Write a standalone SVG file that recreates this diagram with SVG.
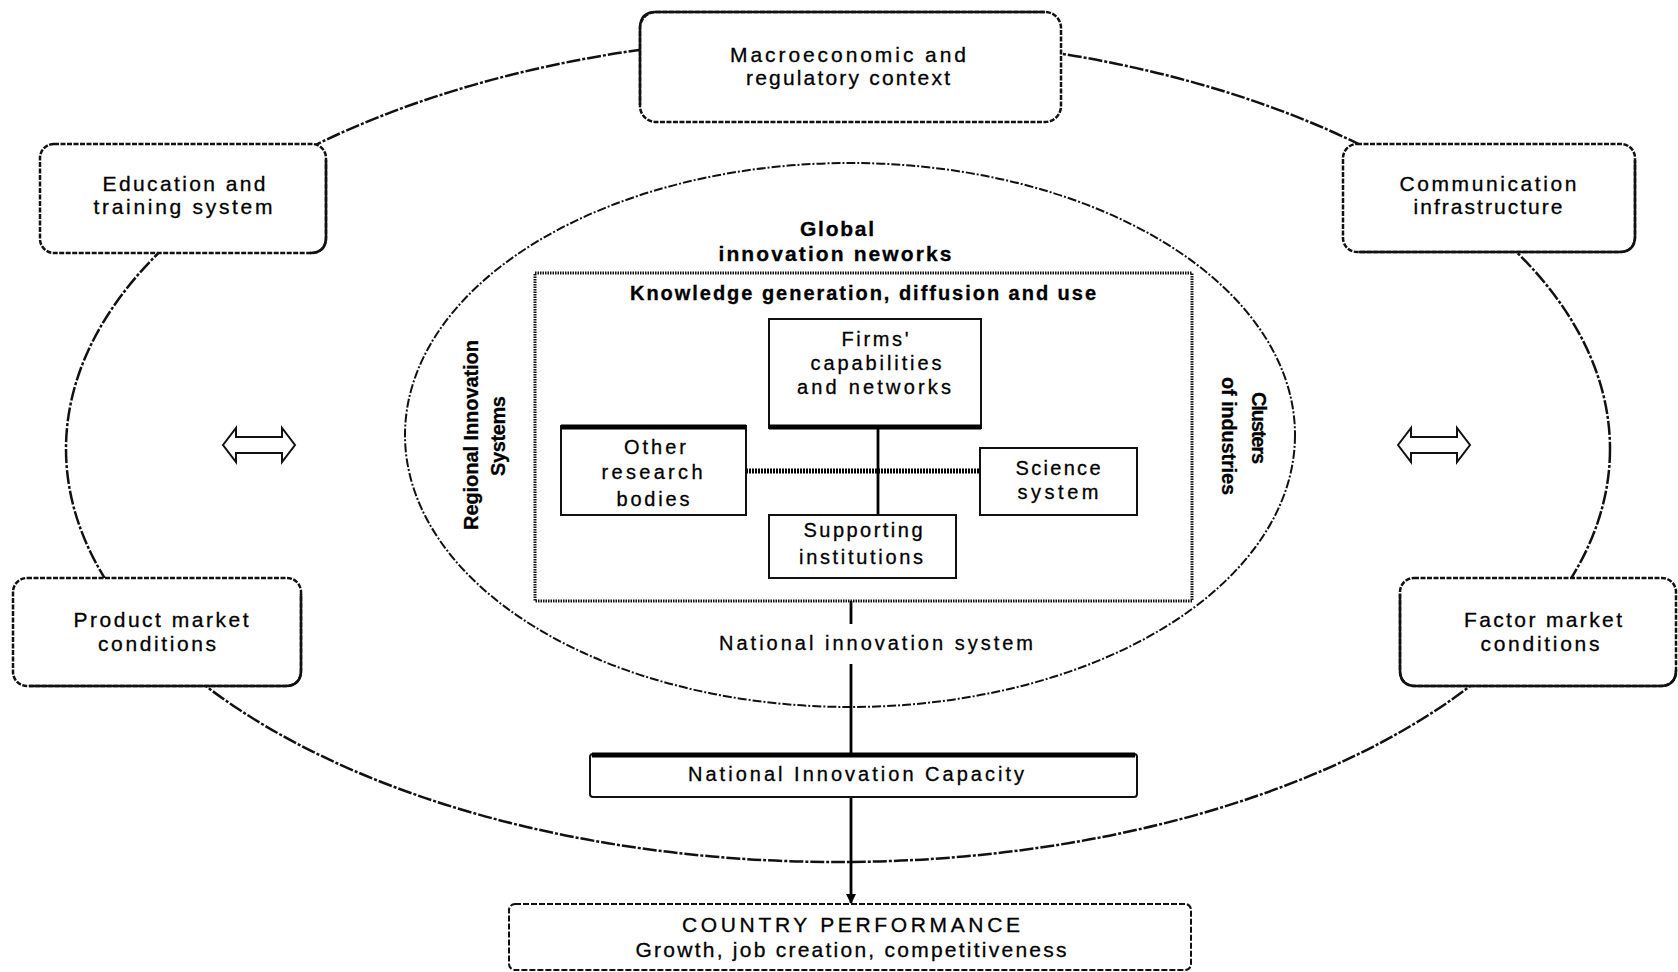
<svg xmlns="http://www.w3.org/2000/svg" width="1678" height="972" viewBox="0 0 1678 972">
  <style>
    .bg { fill: #ffffff; }
    .ring { fill: none; stroke: #111; stroke-width: 2.5; stroke-dasharray: 14 2 3 2; }
    .nis { fill: none; stroke: #111; stroke-width: 2; stroke-dasharray: 9 2 2 2; }
    .rbox { fill: #fff; stroke: #111; stroke-width: 2.5; stroke-dasharray: 5 1.5; }
    .rbox-solid { fill: none; stroke: #111; stroke-width: 2.5; }
    .kframe { fill: none; stroke: #111; stroke-width: 3; stroke-dasharray: 1.5 1; }
    .ibox { fill: #fff; stroke: #111; stroke-width: 2; }
    .heavy { stroke: #000; stroke-width: 5; }
    .cbox { fill: #fff; stroke: #111; stroke-width: 2; stroke-dasharray: 6 2; }
    .dbl { fill: #fff; stroke: #111; stroke-width: 2; }
    .link { stroke: #000; stroke-width: 2.8; fill: none; }
    .hatch { stroke: #000; stroke-width: 5; stroke-dasharray: 2 1; fill: none; }
    text { font-family: "Liberation Sans", Arial, sans-serif; fill: #000; stroke: #000; stroke-width: 0.3; }
    .t21 { font-size: 21px; text-anchor: middle; }
    .t20 { font-size: 20px; text-anchor: middle; }
    .b21 { font-size: 21px; font-weight: bold; text-anchor: middle; }
    .b20 { font-size: 20px; font-weight: bold; text-anchor: middle; }
  </style>
  <defs>
    <marker id="head" markerWidth="10" markerHeight="10" refX="9" refY="5" orient="auto" markerUnits="userSpaceOnUse">
      <path d="M0,0 L10,5 L0,10 Z" fill="#000"/>
    </marker>
    <clipPath id="clipOther">
      <rect x="561" y="426" width="185" height="86"/>
    </clipPath>
  </defs>

  <rect class="bg" x="0" y="0" width="1678" height="972"/>

  <!-- outer framework ring and the national innovation system ellipse -->
  <g id="rings">
    <ellipse class="ring" cx="838" cy="449" rx="772" ry="413"/>
    <ellipse class="nis" cx="850" cy="435" rx="445" ry="272"/>
  </g>

  <!-- knowledge generation frame -->
  <g id="knowledge">
    <rect class="kframe" x="535" y="273" width="657" height="328"/>
    <text class="b20" x="863" y="300" textLength="466" lengthAdjust="spacing">Knowledge generation, diffusion and use</text>
  </g>

  <!-- connectors -->
  <g id="connectors">
    <line class="link" x1="878" y1="428" x2="878" y2="515"/>
    <line class="hatch" x1="746" y1="471" x2="980" y2="471"/>
    <line class="link" x1="851" y1="601" x2="851" y2="754"/>
    <line class="link" x1="851" y1="797" x2="851" y2="903" marker-end="url(#head)"/>
  </g>

  <!-- two-way arrows between the ring and the system -->
  <g id="arrow-left">
    <path class="dbl" d="M223,445 L236,428 L236,437 L282,437 L282,428 L295,445 L282,462 L282,453 L236,453 L236,462 Z"/>
  </g>
  <g id="arrow-right">
    <path class="dbl" d="M1398,445 L1411,428 L1411,437 L1457,437 L1457,428 L1470,445 L1457,462 L1457,453 L1411,453 L1411,462 Z"/>
  </g>

  <!-- context boxes on the ring -->
  <g id="macro">
    <rect class="rbox" x="640" y="12" width="421" height="110" rx="16"/>
    <path class="rbox-solid" d="M640,105 V28 Q640,12 656,12 H1045"/>
    <text class="t21" x="848" y="62" textLength="236" lengthAdjust="spacing">Macroeconomic and</text>
    <text class="t21" x="848" y="85" textLength="204" lengthAdjust="spacing">regulatory context</text>
  </g>

  <g id="education">
    <rect class="rbox" x="40" y="144" width="286" height="109" rx="14"/>
    <path class="rbox-solid" d="M326,160 V237 Q326,253 310,253"/>
    <text class="t21" x="184" y="191" textLength="163" lengthAdjust="spacing">Education and</text>
    <text class="t21" x="183" y="214" textLength="179" lengthAdjust="spacing">training system</text>
  </g>

  <g id="communication">
    <rect class="rbox" x="1343" y="144" width="292" height="108" rx="14"/>
    <path class="rbox-solid" d="M1635,160 V236 Q1635,252 1619,252 H1359"/>
    <text class="t21" x="1488" y="191" textLength="177" lengthAdjust="spacing">Communication</text>
    <text class="t21" x="1488" y="214" textLength="149" lengthAdjust="spacing">infrastructure</text>
  </g>

  <g id="product">
    <rect class="rbox" x="13" y="578" width="288" height="108" rx="14"/>
    <path class="rbox-solid" d="M301,594 V670 Q301,686 285,686 H29"/>
    <text class="t21" x="161" y="627" textLength="175" lengthAdjust="spacing">Product market</text>
    <text class="t21" x="157" y="651" textLength="118" lengthAdjust="spacing">conditions</text>
  </g>

  <g id="factor">
    <rect class="rbox" x="1400" y="578" width="276" height="108" rx="14"/>
    <path class="rbox-solid" d="M1400,594 V670 Q1400,686 1416,686 H1660 Q1676,686 1676,670"/>
    <text class="t21" x="1543" y="627" textLength="158" lengthAdjust="spacing">Factor market</text>
    <text class="t21" x="1540" y="651" textLength="119" lengthAdjust="spacing">conditions</text>
  </g>

  <!-- labels inside the national innovation system -->
  <g id="global">
    <text class="b21" x="837" y="236" textLength="74" lengthAdjust="spacing">Global</text>
    <text class="b21" x="835" y="261" textLength="233" lengthAdjust="spacing">innovation neworks</text>
  </g>

  <g id="regional">
    <text class="b20" transform="translate(478,435) rotate(-90)" textLength="190" lengthAdjust="spacing">Regional Innovation</text>
    <text class="b20" transform="translate(505,436) rotate(-90)" textLength="80" lengthAdjust="spacing">Systems</text>
  </g>

  <g id="clusters">
    <text class="b20" transform="translate(1252,428) rotate(90)" textLength="72" lengthAdjust="spacing">Clusters</text>
    <text class="b20" transform="translate(1222,436) rotate(90)" textLength="118" lengthAdjust="spacing">of industries</text>
  </g>

  <!-- actors of knowledge generation -->
  <g id="firms">
    <rect class="ibox" x="769" y="319" width="212" height="109"/>
    <line class="heavy" x1="769" y1="427" x2="981" y2="427"/>
    <text class="t20" x="875" y="346" textLength="67" lengthAdjust="spacing">Firms'</text>
    <text class="t20" x="876" y="370" textLength="131" lengthAdjust="spacing">capabilities</text>
    <text class="t20" x="874" y="394" textLength="154" lengthAdjust="spacing">and networks</text>
  </g>

  <g id="other">
    <rect class="ibox" x="561" y="426" width="185" height="89"/>
    <line class="heavy" x1="561" y1="427" x2="746" y2="427"/>
    <g clip-path="url(#clipOther)">
      <text class="t20" x="655" y="454" textLength="62" lengthAdjust="spacing">Other</text>
      <text class="t20" x="652" y="479" textLength="101" lengthAdjust="spacing">research</text>
      <text class="t20" x="653" y="506" textLength="73" lengthAdjust="spacing">bodies</text>
    </g>
  </g>

  <g id="science">
    <rect class="ibox" x="980" y="448" width="157" height="67"/>
    <text class="t20" x="1058" y="475" textLength="85" lengthAdjust="spacing">Science</text>
    <text class="t20" x="1058" y="499" textLength="81" lengthAdjust="spacing">system</text>
  </g>

  <g id="supporting">
    <rect class="ibox" x="769" y="515" width="187" height="63"/>
    <text class="t20" x="863" y="537" textLength="119" lengthAdjust="spacing">Supporting</text>
    <text class="t20" x="861" y="564" textLength="124" lengthAdjust="spacing">institutions</text>
  </g>

  <g id="nis-label">
    <rect class="bg" x="690" y="624" width="360" height="40"/>
    <text class="t20" x="876" y="650" textLength="314" lengthAdjust="spacing">National innovation system</text>
  </g>

  <!-- outcome boxes -->
  <g id="capacity">
    <rect class="ibox" x="590" y="754" width="547" height="43" rx="3"/>
    <line class="heavy" x1="592" y1="755" x2="1135" y2="755"/>
    <text class="t20" x="856" y="781" textLength="336" lengthAdjust="spacing">National Innovation Capacity</text>
  </g>

  <g id="performance">
    <rect class="cbox" x="509" y="904" width="682" height="66" rx="6"/>
    <text class="t21" x="851" y="932" textLength="338" lengthAdjust="spacing">COUNTRY PERFORMANCE</text>
    <text class="t21" x="851" y="957" textLength="431" lengthAdjust="spacing">Growth, job creation, competitiveness</text>
  </g>
</svg>
